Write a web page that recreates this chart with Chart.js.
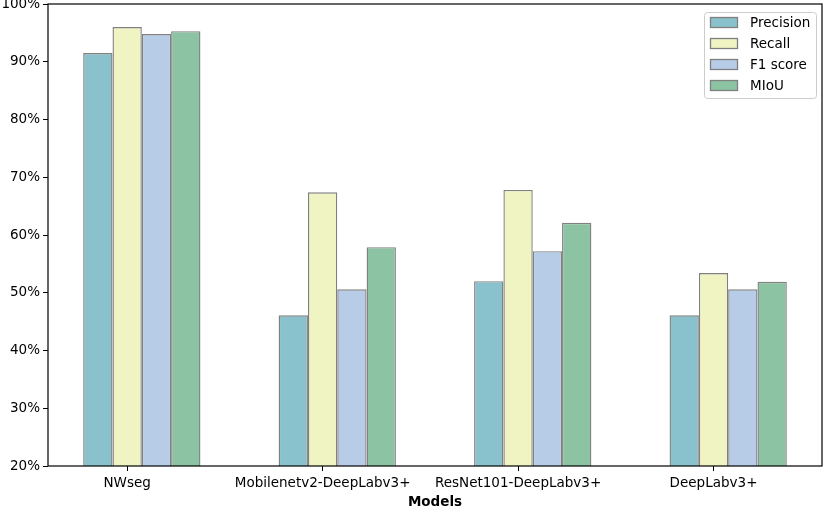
<!DOCTYPE html>
<html>
<head>
<meta charset="utf-8">
<script src="https://cdn.jsdelivr.net/npm/chart.js@4"></script>
<style>
html,body{margin:0;padding:0;background:#fff;}
#wrap{width:824px;height:506px;}
</style>
</head>
<body>
<div id="wrap"><canvas id="c" width="824" height="506"></canvas></div>
<script>
const categories = ["NWseg", "Mobilenetv2-DeepLabv3+", "ResNet101-DeepLabv3+", "DeepLabv3+"];
const seriesNames = ["Precision", "Recall", "F1 score", "MIoU"];
const precision = [91.5, 46.1, 52.0, 46.1];
const recall = [96.0, 67.4, 67.8, 53.4];
const f1score = [94.8, 50.6, 57.2, 50.6];
const miou = [95.3, 57.9, 62.1, 51.9];
const yTicks = [20, 30, 40, 50, 60, 70, 80, 90, 100];

const colors = ["#89c2cc", "#eff4c2", "#b6cce7", "#8bc3a3"];
const edge = "#808080";
const FONT = "DejaVu Sans";
// tick sits under the second bar of each group (bar width = 0.15 units)
const TICK_SHIFT = -0.075;

function mk(vals){ return vals.map((v,i)=>({x:i, y:v})); }
const allSeries = [precision, recall, f1score, miou];

const framePlugin = {
  id: 'frame',
  afterDraw(chart){
    const {ctx, chartArea:a} = chart;
    ctx.save();
    ctx.strokeStyle = '#000';
    ctx.lineWidth = 1.2;
    ctx.strokeRect(a.left, a.top, a.right - a.left, a.bottom - a.top);
    // legend
    const lx = 704, ly = 12, lw = 112, lh = 86;
    ctx.fillStyle = 'rgba(255,255,255,0.8)';
    ctx.strokeStyle = '#cccccc';
    ctx.lineWidth = 1;
    ctx.beginPath();
    if (ctx.roundRect) ctx.roundRect(lx+0.5, ly+0.5, lw, lh, 3); else ctx.rect(lx+0.5, ly+0.5, lw, lh);
    ctx.fill(); ctx.stroke();
    ctx.font = "13.5px '" + FONT + "'";
    ctx.textBaseline = 'middle';
    chart.data.datasets.forEach((ds, i) => {
      const cy = 22 + i * 21;
      ctx.fillStyle = ds.backgroundColor;
      ctx.fillRect(710, cy - 5, 28, 10);
      ctx.strokeStyle = ds.borderColor;
      ctx.lineWidth = 1.3;
      ctx.strokeRect(710.5, cy - 4.5, 27, 10);
      ctx.fillStyle = '#000';
      ctx.fillText(ds.label, 750, cy + 1);
    });
    ctx.restore();
  }
};

new Chart(document.getElementById('c'), {
  type: 'bar',
  data: {
    datasets: seriesNames.map((n, i) => ({
      label: n,
      data: mk(allSeries[i]),
      backgroundColor: colors[i],
      borderColor: edge,
      borderWidth: 1.4,
      borderSkipped: false,
      categoryPercentage: 0.6,
      barPercentage: 1.0
    }))
  },
  options: {
    responsive: false,
    animation: false,
    devicePixelRatio: 1,
    layout: { padding: { top: 4, right: 2, left: 0, bottom: 0 } },
    plugins: { legend: { display: false }, tooltip: { enabled: false } },
    scales: {
      x: {
        type: 'linear',
        min: -0.48, max: 3.48,
        offset: false,
        afterBuildTicks(scale){ scale.ticks = categories.map((c,i)=>({value:i + TICK_SHIFT})); },
        afterFit(scale){ scale.height = 40; scale.paddingLeft = 0; scale.paddingRight = 0; },
        grid: { drawOnChartArea: false, drawTicks: true, tickLength: 5, color: '#000', tickWidth: 1, offset: false },
        border: { display: false },
        ticks: {
          autoSkip: false, maxRotation: 0, padding: 4,
          color: '#000',
          font: { family: FONT, size: 13.5 },
          callback: (v) => { const k = Math.round(v - TICK_SHIFT); return categories[k] !== undefined ? categories[k] : ''; }
        },
        title: { display: true, text: 'Models', color: '#000', font: { family: FONT, size: 13.5, weight: 'bold' }, padding: { top: 4, bottom: -5 } }
      },
      y: {
        min: 20, max: 100,
        afterBuildTicks(scale){ scale.ticks = yTicks.map(v=>({value:v})); },
        afterFit(scale){ scale.width = 48; scale.paddingTop = 0; scale.paddingBottom = 0; },
        grid: { drawOnChartArea: false, drawTicks: true, tickLength: 5, color: '#000', tickWidth: 1 },
        border: { display: false },
        ticks: {
          padding: 3, color: '#000',
          font: { family: FONT, size: 13.5 },
          callback: (v) => v + '%'
        }
      }
    }
  },
  plugins: [framePlugin]
});
</script>
</body>
</html>
